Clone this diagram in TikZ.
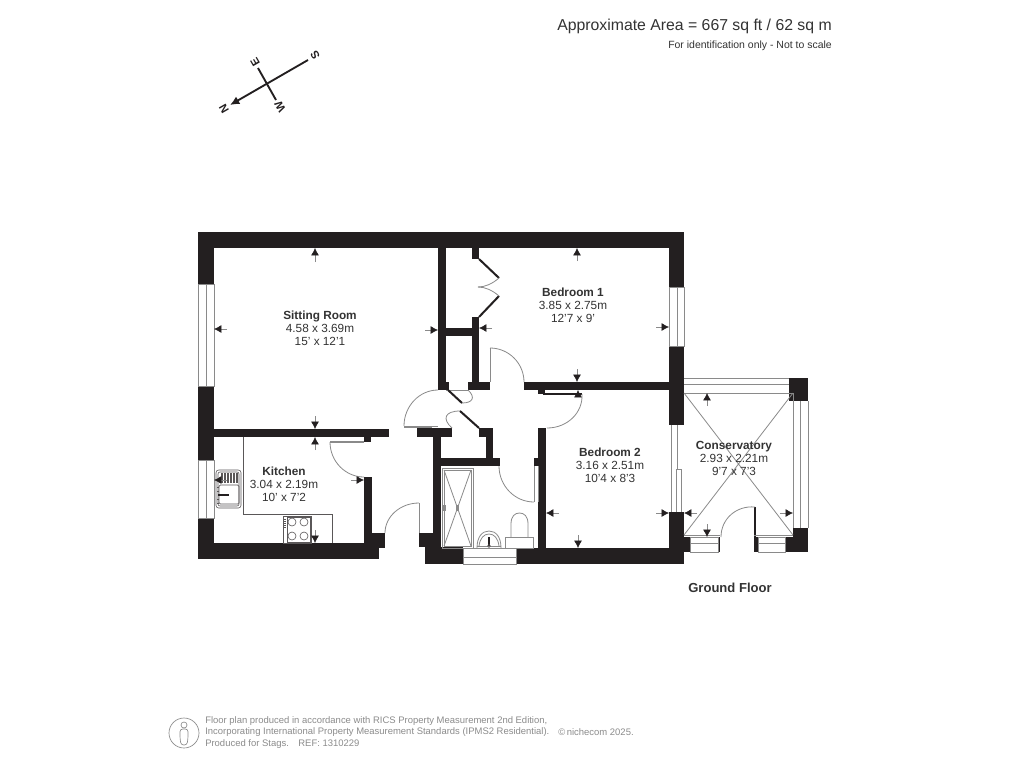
\documentclass[tikz,border=0pt]{standalone}
\usepackage{fontspec}
\setmainfont{Liberation Sans}
\usetikzlibrary{arrows.meta,calc}
\definecolor{wallc}{HTML}{231F20}
\definecolor{linec}{HTML}{8A8A8A}
\definecolor{textc}{HTML}{333333}
\definecolor{footc}{HTML}{8C8C8C}
\tikzset{
  wallfill/.style={fill=wallc},
  thinline/.style={draw=linec,line width=0.6pt},
  fixline/.style={draw=wallc!75,line width=0.45pt},
  blackline/.style={draw=wallc,line width=1.5pt},
  dimline/.style={draw=linec,line width=0.5pt,-{Latex[length=5.6pt,width=6pt,color=wallc]}},
  roomlabel/.style={font=\fontsize{8.85pt}{9.8pt}\selectfont,text=textc,align=center,inner sep=0pt},
  footlabel/.style={font=\fontsize{7.1pt}{8.6pt}\selectfont,text=footc,anchor=west,inner sep=0pt},
  compasslabel/.style={font=\fontsize{8.5pt}{9pt}\selectfont\bfseries,text=wallc,inner sep=0pt,rotate=120}
}
\newcommand\wallrect[4]{\fill[wallfill] (#1,#2) rectangle (#3,#4);}
\newcommand\quarterarc[3]{\draw[thinline] (#2) .. controls ($(#2)+0.55*(#3)-0.55*(#1)$) and ($(#3)+0.55*(#2)-0.55*(#1)$) .. (#3);}
\newcommand\dimarrow[2]{\draw[dimline] (#2) -- (#1);}
\begin{document}
\begin{tikzpicture}[x=0.75pt,y=-0.75pt]
\useasboundingbox (0,0) rectangle (1024,768);
\fill[white] (0,0) rectangle (1024,768);
% outer walls
\wallrect{198}{232}{684}{248}
\wallrect{198}{232}{214}{284}
\wallrect{198}{386}{214}{460}
\wallrect{198}{518}{214}{559}
\wallrect{198}{543}{379}{559}
\wallrect{669}{232}{684}{287}
\wallrect{669}{346}{684}{425}
% sitting / kitchen
\wallrect{214}{429}{389}{437}
\wallrect{364}{437}{371}{442}
\wallrect{364}{477}{372}{543}
\wallrect{364}{533}{385}{548}
\wallrect{372}{548}{379}{559}
% hall walls
\wallrect{438}{248}{446}{390}
\wallrect{446}{328}{472}{336}
\wallrect{472}{248}{479}{259}
\wallrect{472}{317}{479}{390}
\wallrect{468}{382}{490}{390}
\wallrect{446}{382}{449}{390}
\wallrect{524}{382}{684}{390}
\wallrect{538}{390}{545}{394}
\wallrect{543}{393}{582}{395}
\wallrect{538}{428}{546}{548}
\wallrect{534}{458}{538}{466}
\wallrect{417}{428}{452}{437}
\wallrect{433}{437}{441}{548}
\wallrect{441}{458}{500}{466}
\wallrect{486}{428}{493}{458}
\wallrect{479}{428}{493}{437}
\wallrect{419}{533}{433}{547}
\wallrect{425}{547}{463}{564}
\wallrect{516}{548}{684}{564}
\wallrect{669}{512}{684}{564}
\wallrect{684}{537}{690}{552}
% conservatory corners
\wallrect{789}{378}{808}{401}
\wallrect{793}{528}{808}{552}
\wallrect{785}{537}{793}{552}
\wallrect{718}{537}{720}{552}
\wallrect{754}{507}{756}{537}
\wallrect{754}{537}{758}{552}
% windows
\draw[thinline] (198,284) rectangle (214,386) (206,284) -- (206,386);
\draw[thinline] (198,460) rectangle (214,518) (206,460) -- (206,518);
\draw[thinline] (669,287) rectangle (684,346) (677,287) -- (677,346);
\draw[thinline] (463,548) rectangle (516,564) (463,557) -- (516,557);
\draw[thinline] (684,378) -- (789,378) (684,384) -- (789,384) (684,393) -- (793,393);
\draw[thinline] (793,401) -- (793,528) (800,401) -- (800,528) (808,401) -- (808,528);
\draw[thinline] (690,537) rectangle (718,552) (690,543) -- (718,543);
\draw[thinline] (758,537) rectangle (785,552) (758,543) -- (785,543);
\draw[thinline] (684,535) -- (720,535) (754,535) -- (793,535);
\draw[thinline] (793,393) -- (793,401);
\draw[thinline] (671,425) -- (671,512) (677,425) -- (677,469) -- (681,469) -- (681,512) (676,469) -- (676,512);
% conservatory cross
\draw[thinline] (684,393) -- (793,535) (793,393) -- (684,535);
% door leaves and swings
\quarterarc{364,442}{330,442}{364,477}
\draw[thinline] (330,442) -- (364,442) (330,441) -- (364,441);
\quarterarc{419,533}{385,533}{419,503}
\draw[thinline] (419,503) -- (419,533);
\quarterarc{438,426}{438,390}{404,426}
\draw[thinline] (404,426) -- (438,426) (404,427) -- (432,427);
\quarterarc{448,390}{462,403}{468,390}
\draw[thinline] (446,390) -- (468,390);
\draw[blackline] (448,390) -- (462,403);
\quarterarc{479,428}{452,428}{460,411}
\draw[blackline] (460,411) -- (479,428);
\quarterarc{490,382}{490,348}{524,382}
\draw[thinline] (490,348) -- (490,382);
\quarterarc{545,394}{582,394}{547,428}
\quarterarc{534,466}{499,466}{534,502}
\draw[thinline] (534,466) -- (534,502) (538,466) -- (538,502);
\quarterarc{755,540}{755,507}{721,537}
% wardrobe doors
\draw[blackline] (479,259) -- (499,278) (479,317) -- (499,296);
\draw[thinline] (499,278) .. controls (492,284) and (485,287) .. (478,287);
\draw[thinline] (499,296) .. controls (492,290) and (485,287) .. (478,287);
% kitchen units
\draw[fixline] (243,437) -- (243,514) -- (332,514) -- (332,543);
\draw[fixline] (283,516) rectangle (311,543);
\draw[fixline] (287,517) rectangle (310,542);
\foreach \ty in {519,521,523,525,527}{\draw[fixline] (284,\ty) -- (286,\ty);}
\foreach \cx/\cy in {291/521, 303/521, 291/535, 303/535}{\draw[fixline] (\cx+1,\cy+1) circle[radius=4];}
\draw[fixline,rounded corners=2pt] (216,470) rectangle (241,508);
\draw[fixline,rounded corners=1.5pt] (218,472) rectangle (239,506);
\draw[fixline,rounded corners=1pt] (219,485) rectangle (239,504);
\foreach \rx in {222,225,228,231,234,237}{\draw[fixline,line width=0.9pt] (\rx,473) -- (\rx,483);}
\foreach \ty in {487,491,499,503}{\draw[fixline] (217,\ty) -- (219,\ty);}
\draw[wallc,line width=0.8pt] (218,495) -- (229,495);
% shower
\draw[thinline] (442,468) rectangle (473,548) (444,470) rectangle (471,546);
\draw[thinline] (444,470) -- (471,546) (471,470) -- (444,546);
\draw[thinline] (443,505) rectangle (445,510) (456,505) rectangle (458,510);
% basin
\draw[thinline] (477,548) .. controls (477,537) and (482,531) .. (489,531) .. controls (496,531) and (501,537) .. (501,548);
\draw[thinline] (479,546) .. controls (480,538) and (484,534) .. (489,534) .. controls (494,534) and (498,538) .. (499,546);
\draw[thinline] (477,546) -- (501,546);
\draw[wallc,line width=0.8pt] (489,537) -- (489,546);
\draw[fixline] (489,546) circle[radius=1.5];
% toilet
\draw[thinline] (511,537) -- (511,524) .. controls (511,516) and (515,513) .. (519.5,513) .. controls (524,513) and (528,516) .. (528,524) -- (528,537);
\draw[thinline] (505,537) rectangle (533,548);
% dimension arrows
\dimarrow{315,248}{315,262}
\dimarrow{214,329}{227,329}
\dimarrow{438,330}{425,330}
\dimarrow{315,429}{315,416}
\dimarrow{315,437}{315,450}
\dimarrow{214,480}{227,480}
\dimarrow{364,480}{351,480}
\dimarrow{315,543}{315,530}
\dimarrow{577,248}{577,261}
\dimarrow{479,328}{492,328}
\dimarrow{669,327}{656,327}
\dimarrow{577,382}{577,369}
\dimarrow{578,390}{578,396}
\dimarrow{546,513}{559,513}
\dimarrow{669,513}{656,513}
\dimarrow{578,548}{578,535}
\dimarrow{707,393}{707,406}
\dimarrow{684,513}{697,513}
\dimarrow{793,513}{780,513}
\dimarrow{707,537}{707,524}
% room labels
\node[roomlabel] (sitting) at (320,328) {\textbf{Sitting Room}\\4.58 x 3.69m\\15' x 12'1};
\node[roomlabel] (kitchen) at (284,484) {\textbf{Kitchen}\\3.04 x 2.19m\\10' x 7'2};
\node[roomlabel] (bed1) at (573,305) {\textbf{Bedroom 1}\\3.85 x 2.75m\\12'7 x 9'};
\node[roomlabel] (bed2) at (610,465) {\textbf{Bedroom 2}\\3.16 x 2.51m\\10'4 x 8'3};
\node[roomlabel] (cons) at (734,458) {\textbf{Conservatory}\\2.93 x 2.21m\\9'7 x 7'3};
\node[font=\fontsize{9.8pt}{12pt}\selectfont\bfseries,text=textc,inner sep=0pt] (floor) at (730,588) {Ground Floor};
% header
\node[font=\fontsize{11.85pt}{14pt}\selectfont,text=textc,anchor=east,inner sep=0pt] (area) at (832,26) {Approximate Area = 667 sq ft / 62 sq m};
\node[font=\fontsize{7.85pt}{9pt}\selectfont,text=textc,anchor=east,inner sep=0pt] (note) at (832,46) {For identification only - Not to scale};
% compass
\coordinate (cS) at (308,60);
\coordinate (cN) at (230,105);
\coordinate (cE) at (258,68);
\coordinate (cW) at (276,100);
\draw[wallc,line width=1.4pt,-{Latex[length=7pt,width=6.5pt]}] (cS) -- (cN);
\draw[wallc,line width=1.4pt] (cE) -- (cW);
\node[compasslabel] (lS) at (315,55) {S};
\node[compasslabel] (lE) at (255,62) {E};
\node[compasslabel] (lW) at (280,107) {W};
\node[compasslabel] (lN) at (224,109) {N};
% footer
\draw[footc,line width=0.5pt] (184,733) circle[radius=15];
\draw[footc,line width=0.5pt] (184,725) circle[radius=3];
\draw[footc,line width=0.5pt,rounded corners=2pt] (180,729) -- (188,729) -- (188,738) -- (187,745) -- (181,745) -- (180,738) -- cycle;
\node[footlabel] (f1) at (205,721) {Floor plan produced in accordance with RICS Property Measurement 2nd Edition,};
\node[footlabel] (f2) at (205,732) {Incorporating International Property Measurement Standards (IPMS2 Residential).};
\node[footlabel] (f3) at (205,744) {Produced for Stags.\quad REF: 1310229};
\node[footlabel] (f4) at (558,732) {©\,nichecom 2025.};
\end{tikzpicture}
\end{document}
